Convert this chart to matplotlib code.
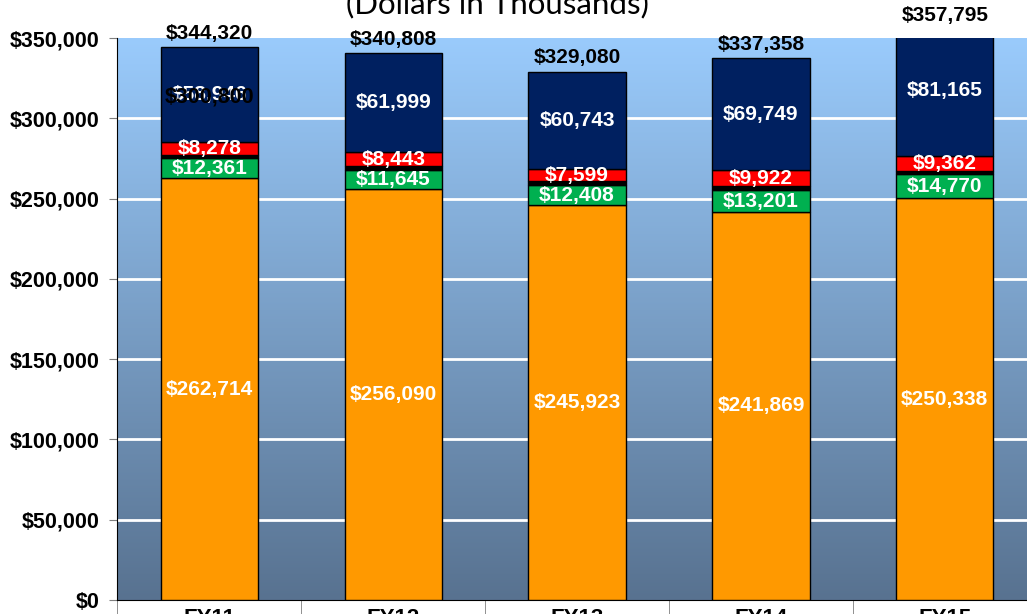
import matplotlib
matplotlib.use('Agg')
import matplotlib.pyplot as plt
from matplotlib.colors import LinearSegmentedColormap
import numpy as np


years = ['FY11', 'FY12', 'FY13', 'FY14', 'FY15']
orange_vals = [262714, 256090, 245923, 241869, 250338]
green_vals = [12361, 11645, 12408, 13201, 14770]
black_vals = [2021, 2631, 2407, 2617, 2160]
red_vals = [8278, 8443, 7599, 9922, 9362]
navy_vals = [58946, 61999, 60743, 69749, 81165]
totals = [344320, 340808, 329080, 337358, 357795]
stray_label = '$300,800'

SEGMENTS = [
    (orange_vals, '#FF9900', True),
    (green_vals, '#00B050', True),
    (black_vals, '#000000', False),
    (red_vals, '#FF0000', True),
    (navy_vals, '#002060', True),
]

FONT = ['Liberation Sans', 'DejaVu Sans']
YMAX = 350000


def money(v):
    return '${:,.0f}'.format(v)


def draw_background(ax):
    cmap = LinearSegmentedColormap.from_list('bg', ['#587290', '#9ACBFC'])
    grad = np.linspace(0, 1, 256).reshape(-1, 1)
    ax.imshow(grad, cmap=cmap, origin='lower', aspect='auto',
              extent=(-0.5, 4.5, 0, YMAX), zorder=0)


def draw_bars(ax):
    x = np.arange(len(years))
    bottom = np.zeros(len(years))
    for vals, color, labelled in SEGMENTS:
        vals = np.array(vals)
        ax.bar(x, vals, bottom=bottom, width=0.53, color=color,
               edgecolor='black', linewidth=1, zorder=3)
        if labelled:
            for xi, b, v in zip(x, bottom, vals):
                ax.text(xi, b + v / 2, money(v), ha='center', va='center',
                        color='white', fontsize=15, fontweight='bold',
                        family=FONT, zorder=5)
        bottom += vals
    for xi, t in zip(x, totals):
        ax.annotate(money(t), (xi, t),
                    xytext=(0, 3 if t <= YMAX else 0),
                    textcoords='offset points', ha='center', va='bottom',
                    fontsize=15, fontweight='bold', family=FONT,
                    annotation_clip=False, zorder=6)
    # overlapping label left in the first navy block
    ax.text(0, bottom[0] - navy_vals[0] / 2 - 1500, stray_label, ha='center',
            va='center', color='black', fontsize=15.5, fontweight='bold',
            family=FONT, zorder=6)


fig = plt.figure(figsize=(10.27, 6.14), dpi=100)
ax = fig.add_axes([0.1144, 0.0228, 0.895, 0.9153])
draw_background(ax)
draw_bars(ax)

ax.set_xlim(-0.5, 4.5)
ax.set_ylim(0, YMAX)
ax.set_yticks(np.arange(0, YMAX + 1, 50000))
ax.set_yticklabels([money(v) for v in np.arange(0, YMAX + 1, 50000)],
                   fontsize=15.5, fontweight='bold', family=FONT)
for y in np.arange(50000, YMAX, 50000):
    ax.axhline(y, color='white', linewidth=2, zorder=1)

ax.set_xticks(np.arange(len(years)))
ax.set_xticklabels(years, fontsize=16, fontweight='bold', family=FONT)
ax.set_xticks(np.arange(-0.5, 4.6, 1), minor=True)
ax.tick_params(axis='x', which='major', length=0, pad=6)
ax.tick_params(axis='x', which='minor', length=25, color='#7f7f7f')
ax.tick_params(axis='y', length=6, color='#7f7f7f', pad=7)

for side in ['top', 'right']:
    ax.spines[side].set_visible(False)
ax.spines['left'].set_color('black')
ax.spines['bottom'].set_color('black')

fig.text(497 / 1027, 1 - 4 / 614, '(Dollars in Thousands)', ha='center',
         va='center', fontsize=22.5, family=['Lato', 'DejaVu Sans'])

plt.savefig('out.png', dpi=100)
